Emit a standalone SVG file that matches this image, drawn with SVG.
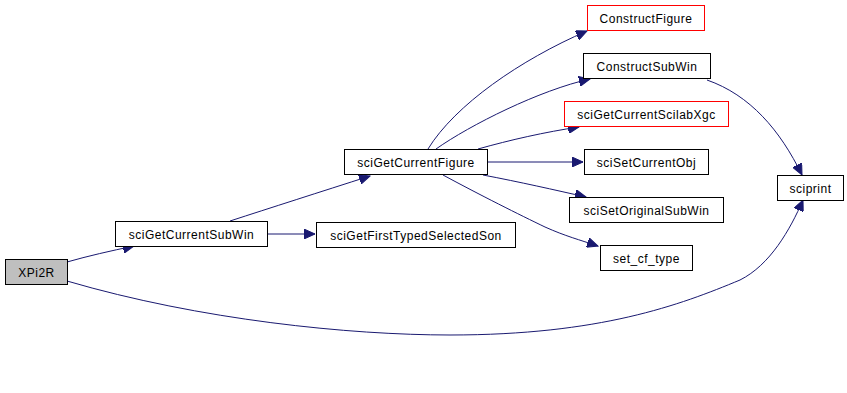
<svg xmlns="http://www.w3.org/2000/svg" width="847" height="393" viewBox="0 0 847 393">
<style>
.n rect{fill:#fff;stroke:#000;stroke-width:1}
.n.r rect{stroke:#ff0000}
.n.g rect{fill:#bfbfbf}
.n text{font-family:"Liberation Sans",Arial,sans-serif;font-size:12px;letter-spacing:0.5px;text-anchor:middle;fill:#000}
.e path{fill:none;stroke:#191970;stroke-width:1;marker-end:url(#a)}
</style>
<defs>
<marker id="a" markerUnits="userSpaceOnUse" markerWidth="12" markerHeight="10" viewBox="0 0 12 10" refX="11" refY="5" orient="auto">
<path d="M0,0 L11,5 L0,10 Z" fill="#191970" stroke="#191970"/>
</marker>
</defs>
<g class="e" id="edges">
<path d="M67,262 C88,256 110,251 134,246"/>
<path d="M230,221 C270,208 320,192 370,176"/>
<path d="M267,234 L315,234"/>
<path d="M428,149 C455,105 520,60 587,31"/>
<path d="M436,149 C470,125 540,90 590,79"/>
<path d="M478,149 C510,140 545,132 579,127"/>
<path d="M487,162 L583,162"/>
<path d="M483,175 C520,182 555,190 586,197"/>
<path d="M443,175 C480,195 520,215 545,227 C565,236 580,240 598,246"/>
<path d="M707,80 C750,95 780,130 802,175"/>
<path d="M67,281 C200,320 350,335 450,335 C600,335 680,305 740,280 C770,265 790,230 803,200"/>
</g>
<g class="n g" id="XPi2R"><rect x="5.5" y="259.5" width="62" height="25"/><text x="36.5" y="276.5">XPi2R</text></g>
<g class="n" id="sciGetCurrentSubWin"><rect x="115.5" y="221.5" width="152" height="25"/><text x="191.5" y="238.5">sciGetCurrentSubWin</text></g>
<g class="n" id="sciGetFirstTypedSelectedSon"><rect x="316.5" y="222.5" width="199" height="25"/><text x="416" y="239.5">sciGetFirstTypedSelectedSon</text></g>
<g class="n" id="sciGetCurrentFigure"><rect x="344.5" y="149.5" width="143" height="25"/><text x="416" y="166.5">sciGetCurrentFigure</text></g>
<g class="n r" id="ConstructFigure"><rect x="587.5" y="5.5" width="117" height="25"/><text x="646" y="22.5">ConstructFigure</text></g>
<g class="n" id="ConstructSubWin"><rect x="583.5" y="53.5" width="127" height="25"/><text x="647" y="70.5">ConstructSubWin</text></g>
<g class="n r" id="sciGetCurrentScilabXgc"><rect x="564.5" y="101.5" width="164" height="25"/><text x="646.5" y="118.5">sciGetCurrentScilabXgc</text></g>
<g class="n" id="sciSetCurrentObj"><rect x="584.5" y="149.5" width="124" height="25"/><text x="646.5" y="166.5">sciSetCurrentObj</text></g>
<g class="n" id="sciSetOriginalSubWin"><rect x="569.5" y="197.5" width="154" height="25"/><text x="646.5" y="214.5">sciSetOriginalSubWin</text></g>
<g class="n" id="set_cf_type"><rect x="600.5" y="245.5" width="92" height="25"/><text x="646.5" y="262.5">set_cf_type</text></g>
<g class="n" id="sciprint"><rect x="777.5" y="175.5" width="66" height="25"/><text x="810.5" y="192.5">sciprint</text></g>
</svg>
